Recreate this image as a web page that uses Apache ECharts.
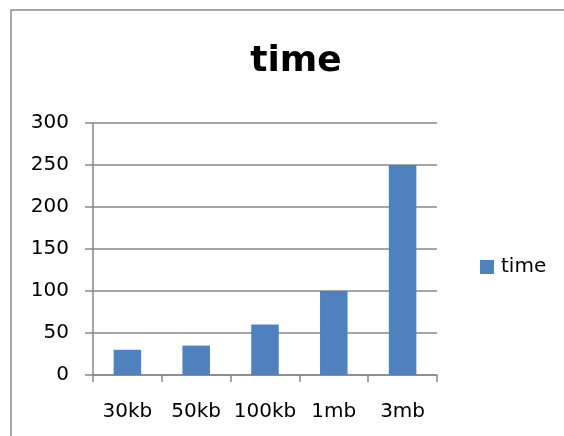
<!DOCTYPE html>
<html>
<head>
<meta charset="utf-8">
<script src="https://cdn.jsdelivr.net/npm/echarts@6/dist/echarts.min.js"></script>
<style>
html,body{margin:0;padding:0;background:#fff;}
#chart{width:564px;height:436px;}
</style>
</head>
<body>
<div id="chart"></div>
<script>
const categories = ['30kb', '50kb', '100kb', '1mb', '3mb'];
const timeValues = [30, 35, 60, 100, 250];
const yTicks = [0, 50, 100, 150, 200, 250, 300];
const seriesName = 'time';
const titleText = 'time';

const chart = echarts.init(document.getElementById('chart'));
const gray = '#878787';
const font = 'DejaVu Sans';
chart.setOption({
  animation: false,
  backgroundColor: '#ffffff',
  graphic: [{
    type: 'polyline',
    shape: { points: [[11, 436], [11, 10], [564, 10]] },
    style: { fill: null, stroke: '#8c8c8c', lineWidth: 1.5 },
    silent: true
  }],
  title: {
    text: titleText,
    left: 291,
    textAlign: 'center',
    top: 39,
    textStyle: { fontFamily: font, fontWeight: 'bold', fontSize: 36, color: '#000' }
  },
  legend: {
    left: 480,
    top: 257,
    padding: 0,
    itemWidth: 14,
    itemHeight: 14,
    itemGap: 7,
    icon: 'rect',
    data: [seriesName],
    textStyle: { fontFamily: font, fontSize: 20, color: '#000', padding: [0, 0, 0, 2] }
  },
  grid: { left: 93, right: 127, top: 123, bottom: 61, containLabel: false },
  xAxis: {
    type: 'category',
    data: categories,
    boundaryGap: true,
    axisLine: { lineStyle: { color: gray, width: 1.5 } },
    axisTick: { show: true, length: 7, alignWithLabel: false, lineStyle: { color: gray, width: 1.5 } },
    axisLabel: { fontFamily: font, fontSize: 20, color: '#000', margin: 27, interval: 0, hideOverlap: false },
    splitLine: { show: false }
  },
  yAxis: {
    type: 'value',
    min: yTicks[0],
    max: yTicks[yTicks.length - 1],
    interval: yTicks[1] - yTicks[0],
    axisLine: { show: true, lineStyle: { color: gray, width: 1.5 } },
    axisTick: { show: true, length: 8, lineStyle: { color: gray, width: 1.5 } },
    axisLabel: { fontFamily: font, fontSize: 20, color: '#000', margin: 24 },
    splitLine: { show: true, lineStyle: { color: gray, width: 1.5 } }
  },
  series: [{
    name: seriesName,
    type: 'bar',
    data: timeValues,
    barWidth: '40%',
    itemStyle: { color: '#4f81bd' }
  }]
});
</script>
</body>
</html>
